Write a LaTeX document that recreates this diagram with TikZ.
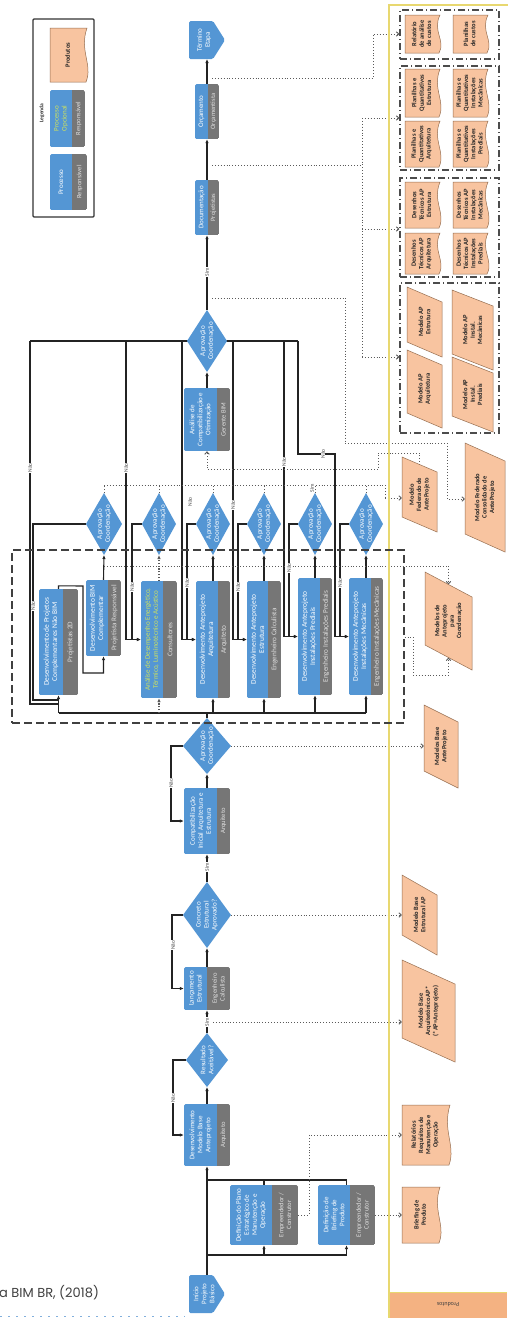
\documentclass[tikz,border=0pt]{standalone}
\usepackage{fontspec}
\setmainfont{Carlito}
\newfontfamily\capfont{Poppins}
\usetikzlibrary{arrows.meta,fit}
\definecolor{procblue}{RGB}{84,150,212}
\definecolor{respgrey}{RGB}{118,118,118}
\definecolor{prodfill}{RGB}{248,196,160}
\definecolor{prodedge}{RGB}{150,110,80}
\definecolor{lanebar}{RGB}{232,216,112}
\definecolor{bandfill}{RGB}{244,178,130}
\definecolor{optgreen}{RGB}{210,228,90}
\definecolor{lineclr}{RGB}{35,35,35}
\definecolor{dotclr}{RGB}{90,90,90}
\definecolor{decoblue}{RGB}{130,175,220}
\pgfdeclarelayer{bg}
\pgfdeclarelayer{back}
\pgfsetlayers{back,bg,main}
\tikzset{
 flow/.style={draw=lineclr, line width=1.1pt, -{Latex[length=4pt,width=3.5pt]}},
 flowl/.style={draw=lineclr, line width=1.1pt},
 dotl/.style={draw=dotclr, line width=0.9pt, dash pattern=on 0.9pt off 2pt},
 dota/.style={dotl, -{Straight Barb[length=2.5pt,width=4.5pt]}},
 dotb/.style={draw=dotclr, line width=1.6pt, dash pattern=on 1.2pt off 1.6pt, -{Latex[length=4pt,width=3.5pt]}},
 ptxtx/.style={},
 rtxtx/.style={},
 ptxt/.style={text=white, font=\fontsize{7}{8}\selectfont, align=center, rotate=90, inner sep=0pt, ptxtx},
 rtxt/.style={text=white!88!black, font=\fontsize{6.6}{7.6}\selectfont, align=center, rotate=90, inner sep=0pt, rtxtx},
 big/.style={ptxtx/.style={font=\fontsize{7.4}{8.4}\selectfont}, rtxtx/.style={font=\fontsize{7.2}{8.2}\selectfont}},
 optc/.style={ptxtx/.append style={text=optgreen}},
 prodtxt/.style={text=black!85, font=\fontsize{6.5}{7.3}\selectfont\bfseries, align=center, rotate=90, inner sep=0pt},
 lbl/.style={font=\fontsize{5.5}{5.5}\selectfont, text=black!70, fill=white, inner sep=0.6pt, rotate=90},
 grp/.style={draw=black!70, line width=1.1pt, dash pattern=on 7pt off 3pt on 1pt off 3pt},
 bigdash/.style={draw=black!75, line width=1.2pt, dash pattern=on 8pt off 4pt},
}
\newcommand{\procbox}[9]{%
  \begin{scope}[#9]
  \begin{scope}
    \clip[rounded corners=1.5pt] (#2,#3) rectangle (#5,#6);
    \fill[procblue] (#2,#3) rectangle (#4,#6);
    \fill[respgrey] (#4,#3) rectangle (#5,#6);
  \end{scope}
  \node[inner sep=0pt, fit={(#2,#3) (#5,#6)}] (#1) {};
  \node[ptxt] (#1p) at ({(#2+#4)/2},{(#3+#6)/2}) {#7};
  \node[rtxt] (#1r) at ({(#4+#5)/2},{(#3+#6)/2}) {#8};
  \end{scope}
}
\newcommand{\diam}[6]{%
  \fill[procblue] ({#2-#4},#3) -- (#2,{#3-#5}) -- ({#2+#4},#3) -- (#2,{#3+#5}) -- cycle;
  \coordinate (#1-w) at ({#2-#4},#3);
  \coordinate (#1-e) at ({#2+#4},#3);
  \coordinate (#1-n) at (#2,{#3-#5});
  \coordinate (#1-s) at (#2,{#3+#5});
  \node[ptxt, font=\fontsize{7}{8}\selectfont] (#1) at (#2,#3) {#6};
}
\newcommand{\pdoc}[6]{%
  \filldraw[fill=prodfill, draw=prodedge, line width=0.5pt] (#2,#3) -- (#4,#3)
    .. controls ({#4-8},{#3+0.42*(#5-#3)}) and ({#4+6},{#3+0.68*(#5-#3)}) .. ({#4-1},#5) -- (#2,#5) -- cycle;
  \coordinate (#1-w) at (#2,{(#3+#5)/2});
  \node[prodtxt] (#1) at ({(#2+#4)/2-1},{(#3+#5)/2}) {#6};
}
\newcommand{\ppara}[7]{%
  \filldraw[fill=prodfill, draw=prodedge, line width=0.5pt] (#2,#3) -- (#4,{#3+#6}) -- (#4,#5) -- (#2,{#5-#6}) -- cycle;
  \coordinate (#1-w) at (#2,{(#3+#5-#6)/2});
  \coordinate (#1-n) at ({(#2+#4)/2},{#3+#6/2});
  \coordinate (#1-s) at ({(#2+#4)/2},{#5-#6/2});
  \node[prodtxt] (#1) at ({(#2+#4)/2},{(#3+#5)/2}) {#7};
}
\newcommand{\offpage}[6]{%
  \fill[procblue, rounded corners=1.5pt] (#2,#3) -- ({#4-12},#3) -- (#4,{(#3+#5)/2}) -- ({#4-12},#5) -- (#2,#5) -- cycle;
  \coordinate (#1-n) at ({(#2+#4)/2},#3);
  \coordinate (#1-s) at ({(#2+#4)/2},#5);
  \node[ptxt] (#1) at ({(#2+#4)/2-3},{(#3+#5)/2}) {#6};
}
\begin{document}
\begin{tikzpicture}[x=1pt,y=-1pt]
\useasboundingbox (0,0) rectangle (507,1318);
\begin{pgfonlayer}{back}
\fill[white] (0,0) rectangle (507,1318);
\end{pgfonlayer}

% products lane
\fill[bandfill] (389,1292) rectangle (507,1318);
\draw[lanebar, line width=1.3pt] (389,1318) -- (389,5) -- (508,5);
\draw[lanebar, line width=0.8pt] (389,1292) -- (507,1292);
\node[rotate=180, font=\fontsize{6}{6}\selectfont, text=black!75] (lanelbl) at (448,1305) {Produtos};

% caption
\node[anchor=west, inner sep=0pt, text=black!75] (cap) at (-1,1293) {\capfont\fontsize{13}{13}\selectfont a BIM BR, (2018)};
\draw[decoblue, line width=1pt, dash pattern=on 2pt off 6pt] (0,1316) -- (185,1316);

% legend
\draw[black!80, line width=1.2pt, rounded corners=1pt] (33,19) rectangle (94,217);
\pdoc{legprod}{50}{28}{87}{82}{Produtos}
\node[rotate=90, font=\fontsize{5.5}{6}\selectfont\bfseries, text=black!80] (legt) at (42,113) {Legenda};
\procbox{legopt}{50}{90}{72}{85}{147}{Processo\\Opcional}{Responsável}{optc}
\procbox{legproc}{50}{154}{72}{87}{210}{Processo}{Responsável}{}

% main column
\offpage{term}{189}{21}{225}{59}{Término\\Etapa}
\procbox{orc}{195}{84}{208}{219}{139}{Orçamento}{Orçamentista}{}
\procbox{docu}{195}{180}{208}{219}{235}{Documentação}{Projetistas}{}
\diam{apF}{207}{341}{20}{31}{Aprovação\\Coordenação}
\procbox{anal}{184}{388}{217}{230}{451}{Análise de\\Compatibilização e\\Otimização}{Gerente BIM}{}
\diam{d1}{104}{524}{18}{31}{Aprovação\\Coordenação}
\diam{d2}{159}{524}{17}{31}{Aprovação\\Coordenação}
\diam{d3}{213}{524}{17}{31}{Aprovação\\Coordenação}
\diam{d4}{264}{524}{17}{31}{Aprovação\\Coordenação}
\diam{d5}{315}{524}{17}{31}{Aprovação\\Coordenação}
\diam{d6}{366}{524}{17}{31}{Aprovação\\Coordenação}
\procbox{boxA}{39}{589}{63}{78}{695}{Desenvolvimento de Projetos\\Complementares Não BIM}{Projetistas 2D}{big}
\procbox{boxB}{86}{580}{108}{121}{656}{Desenvolvimento BIM\\Complementar}{Projetista Responsável}{big}
\procbox{boxC}{141}{581}{163}{177}{698}{Análise de Desempenho Energético,\\Térmico, Luminotécnico e Acústico}{Consultores}{big,ptxtx/.style={font=\fontsize{7}{8}\selectfont,text=optgreen}}
\procbox{boxD}{196}{581}{218}{230}{698}{Desenvolvimento Anteprojeto\\Arquitetura}{Arquiteto}{big}
\procbox{boxE}{247}{581}{268}{281}{698}{Desenvolvimento Anteprojeto\\Estrutura}{Engenheiro Calculista}{big}
\procbox{boxF}{298}{578}{320}{332}{695}{Desenvolvimento Anteprojeto\\Instalações Prediais}{Engenheiro Instalações Prediais}{big}
\procbox{boxG}{349}{578}{371}{383}{695}{Desenvolvimento Anteprojeto\\Instalações Mecânicas}{Engenheiro Instalações Mecânicas}{big}
\diam{apB}{207}{746}{24}{28}{Aprovação\\Coordenação}
\procbox{compat}{184}{788}{217}{230}{854}{Compatibilização\\Inicial Arquitetura e\\Estrutura}{Arquiteto}{}
\diam{conc}{207}{915}{24}{33}{Concreto\\Estrutural\\Aprovado?}
\procbox{lanc}{184}{967}{207}{230}{1010}{Lançamento\\Estrutural}{Engenheiro\\Calculista}{}
\diam{res}{207}{1060}{21}{27}{Resultado\\Aceitável?}
\procbox{dmb}{184}{1104}{217}{230}{1166}{Desenvolvimento\\Modelo Base\\Anteprojeto}{Arquiteto}{}
\procbox{plano}{230}{1185}{272}{298}{1245}{Definição do Plano\\Estratégico de\\Manutenção e\\Operação}{Empreendedor /\\Construtor}{}
\procbox{brief}{318}{1185}{350}{375}{1245}{Definição de\\Briefing de\\Produto}{Empreendedor /\\Construtor}{}
\offpage{ini}{189}{1275}{225}{1313}{Início\\Projeto\\Básico}

% products
\pdoc{p1}{405}{15}{440}{53}{Relatório\\de análise\\de custos}
\pdoc{p2}{453}{15}{488}{53}{Planilhas\\de custos}
\pdoc{p3}{405}{69}{440}{117}{Planilhas e\\Quantitativos\\Estrutura}
\pdoc{p4}{453}{69}{488}{117}{Planilhas e\\Quantitativos\\Instalações\\Mecânicas}
\pdoc{p5}{405}{121}{440}{167}{Planilhas e\\Quantitativos\\Arquitetura}
\pdoc{p6}{453}{121}{488}{167}{Planilhas e\\Quantitativos\\Instalações\\Prediais}
\pdoc{p7}{405}{182}{440}{228}{Desenhos\\Técnicos AP\\Estrutura}
\pdoc{p8}{453}{182}{488}{228}{Desenhos\\Técnicos AP\\Instalações\\Mecânicas}
\pdoc{p9}{405}{233}{440}{274}{Desenhos\\Técnicos AP\\Arquitetura}
\pdoc{p10}{453}{233}{488}{274}{Desenhos\\Técnicos AP\\Instalações\\Prediais}
\ppara{p11}{407}{287}{442}{357}{15}{Modelo AP\\Estrutura}
\ppara{p12}{452}{290}{493}{370}{16}{Modelo AP\\Instal.\\Mecânicas}
\ppara{p13}{407}{350}{442}{428}{15}{Modelo AP\\Arquitetura}
\ppara{p14}{452}{357}{493}{432}{16}{Modelo AP\\Instal.\\Prediais}
\ppara{mfed}{402}{457}{437}{532}{15}{Modelo\\Federado de\\AnteProjeto}
\ppara{mfc}{465}{443}{505}{552}{18}{Modelo Federado\\Consolidado de\\AnteProjeto}
\ppara{mcoord}{425}{572}{472}{670}{25}{Modelos de\\Anteprojeto\\para\\Coordenação}
\ppara{mbap}{424}{705}{458}{788}{17}{Modelos Base\\AnteProjeto}
\ppara{mbest}{402}{875}{437}{955}{20}{Modelo Base\\Estrutural AP}
\ppara{mbarq}{402}{960}{455}{1062}{24}{Modelo Base\\Arquitetônico AP*\\(*AP=Anteprojeto)}
\pdoc{relat}{402}{1105}{450}{1165}{Relatórios\\Requisitos de\\Manutenção e\\Operação}
\pdoc{brp}{402}{1187}{440}{1243}{Briefing de\\Produto}

% groups
\node[grp, inner sep=0pt, fit={(400,10) (499,59)}] (g1) {};
\node[grp, inner sep=0pt, fit={(400,66) (499,170)}] (g2) {};
\node[grp, inner sep=0pt, fit={(400,178) (499,277)}] (g3) {};
\node[grp, inner sep=0pt, fit={(400,283) (499,433)}] (g4) {};
\node[bigdash, inner sep=0pt, fit={(12,550) (404,723)}] (par) {};

% ---------- connectors ----------
\begin{pgfonlayer}{bg}
\coordinate (b1) at (207,1255);
\coordinate (b2) at (207,1180);
\draw[flowl] (ini-n) -- (b1);
\draw[flow] (b1) -- (dmb.south);
\draw[flow] (b1) -| (plano.south);
\draw[flow] (b1) -| (brief.south);
\draw[flowl] (plano.north) |- (b2);
\draw[flowl] (brief.north) |- (b2);
\draw[flow] (dmb.north) -- (res-s);
\draw[flow] (res-w) -- ++(-13,0) |- (dmb.west);
\draw[flow] (res-n) -- (lanc.south);
\draw[flow] (lanc.north) -- (conc-s);
\draw[flow] (conc-w) -- ++(-11,0) |- (lanc.west);
\draw[flow] (conc-n) -- (compat.south);
\draw[flow] (compat.north) -- (apB-s);
\draw[flow] (apB-w) -- ++(-12,0) |- (compat.west);
\coordinate (bus) at (207,713);
\draw[flowl] (apB-n) -- (bus);
\draw[flowl] (boxA.south |- bus) -- (boxG.south |- bus);
\draw[flow] (boxA.south |- bus) -- (boxA.south);
\draw[dotb] (boxC.south |- bus) -- (boxC.south);
\draw[flow] (boxD.south |- bus) -- (boxD.south);
\draw[flow] (boxE.south |- bus) -- (boxE.south);
\draw[flow] (boxF.south |- bus) -- (boxF.south);
\draw[flow] (boxG.south |- bus) -- (boxG.south);
\draw[flow] (boxA.north) -- ++(0,-3) -- (83,586) -- (83,673) -| (boxB.south);
\draw[flow] (boxB.north) -- (d1-s);
\draw[dotb] (boxC.north) -- (d2-s);
\draw[flow] (boxD.north) -- (d3-s);
\draw[flow] (boxE.north) -- (d4-s);
\draw[flow] (boxF.north) -- (d5-s);
\draw[flow] (boxG.north) -- (d6-s);
\draw[flowl] (d1-w) -- (33,524) -- (33,700) -- (58,700);
\draw[flow] (d2-w) -- (132,524) |- (boxC.west);
\draw[flow] (d3-w) -- (187,524) |- (boxD.west);
\draw[flow] (d4-w) -- (238,524) |- (boxE.west);
\draw[flow] (d5-w) -- (289,524) |- (boxF.west);
\draw[flow] (d6-w) -- (340,524) |- (boxG.west);
\coordinate (nl) at (30,341);
\coordinate (nr) at (298,341);
\draw[flowl] (nl) -- (nr);
\draw[flowl] (nl) -- (30,704) -- (58,704);
\draw[flow] (126,341) |- (boxC.west);
\draw[flow] (182,341) |- (boxD.west);
\draw[flow] (233,341) |- (boxE.west);
\draw[flow] (284,341) |- (boxF.west);
\draw[flow] (nr) -- (298,454) -- (335,454) |- (boxG.west);
\draw[flow] (anal.north) -- (apF-s);
\draw[flow] (apF-n) -- (docu.south);
\draw[flow] (docu.north) -- (orc.south);
\draw[flow] (orc.north) -- (term-s);
% dotted product links
\draw[dota] (212,78) -- (373,78) -- (373,34) -- (g1.west |- 0,34);
\draw[dotl] (212,165) -- (362,165);
\draw[dotl] (362,118) -- (362,357);
\draw[dota] (362,118) -- (g2.west |- 0,118);
\draw[dota] (362,229) -- (g3.west |- 0,229);
\draw[dota] (362,357) -- (g4.west |- 0,357);
\draw[dota] (212,298) -- (345,298) -- (345,443) -- (447,443) -- (447,499) -- (mfc-w |- 0,499);
\draw[dota] (mfed-n) -- (419.5,453) -- (378,453) -- (378,469) -- (207,469) -- (anal.south);
\draw[dotl] (104,485) -- (385,485) -- (385,498);
\draw[dota] (385,498) -- (mfed-w |- 0,498);
\draw[dotl] (d1-n) -- (104,485);
\draw[dotl] (d2-n) -- (159,485);
\draw[dotl] (d3-n) -- (213,485);
\draw[dotl] (d4-n) -- (264,485);
\draw[dotl] (d5-n) -- (315,485);
\draw[dotl] (d6-n) -- (366,485);
\draw[dotl] (104,566) -- (448.5,566);
\draw[dota] (448.5,566) -- (mcoord-n);
\draw[dota] (par.east |- 0,637) -- (413,637) -- (413,675) -- (448.5,675) -- (mcoord-s);
\draw[dota] (apB-e) -- (mbap-w |- apB-e);
\draw[dota] (conc-e) -- (mbest-w |- conc-e);
\draw[dota] (213,1022) -- (mbarq-w |- 0,1022);
\draw[dota] (plano.east) -- (309,1215) -- (309,1135) -- (relat-w |- 0,1135);
\draw[dota] (brief.east) -- (brp-w |- brief.east);
\end{pgfonlayer}

% labels
\node[lbl] (s1) at (207,1022) {Sim};
\node[lbl] (s2) at (207,867) {Sim};
\node[lbl] (s3) at (207,272) {Sim};
\node[lbl] (s4) at (312,488) {Sim};
\node[lbl] (n1) at (173,1098) {Não};
\node[lbl] (n2) at (173,945) {Não};
\node[lbl] (n3) at (171,783) {Não};
\node[lbl] (n4) at (30,468) {Não};
\node[lbl] (n5) at (126,468) {Não};
\node[lbl] (n6) at (190,502) {Não};
\node[lbl] (n7) at (233,505) {Não};
\node[lbl] (n8) at (284,462) {Não};
\node[lbl] (n9) at (323,454) {Não};
\node[lbl] (n10) at (33,606) {Não};
\node[lbl] (n11) at (132,587) {Não};
\node[lbl] (n12) at (187,583) {Não};
\node[lbl] (n13) at (238,587) {Não};
\node[lbl] (n14) at (289,568) {Não};
\node[lbl] (n15) at (340,583) {Não};
\end{tikzpicture}
\end{document}
